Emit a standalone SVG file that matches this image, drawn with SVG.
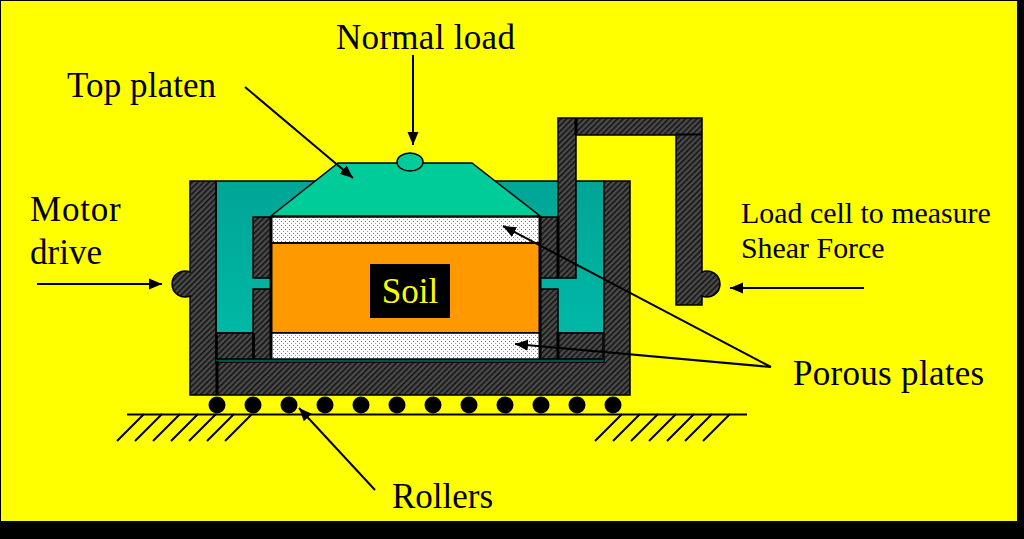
<svg xmlns="http://www.w3.org/2000/svg" width="1024" height="539" viewBox="0 0 1024 539">
<style>
text{font-family:"Liberation Serif","Times New Roman",serif;fill:#000}
.t{font-size:35px}
.s{font-size:30px}
.w{fill:url(#hatch);stroke:#000;stroke-width:1.5}
.p{fill:url(#dots);stroke:#000;stroke-width:1.5}
.c{fill:none;stroke:#000;stroke-width:2}
.b{fill:none;stroke:#000;stroke-width:3}
.a{fill:none;stroke:#000;stroke-width:2;marker-end:url(#arr)}
</style>
<defs>
<linearGradient id="teal" x1="0" y1="0" x2="0" y2="1"><stop offset="0" stop-color="#00a596"/><stop offset="1" stop-color="#00b8a6"/></linearGradient>
<pattern id="hatch" width="4" height="4" patternUnits="userSpaceOnUse" patternTransform="rotate(45)">
<rect width="4" height="4" fill="#4a4a4a"/><rect width="1.500" height="4" fill="#111"/>
</pattern>
<pattern id="dots" width="4" height="4" patternUnits="userSpaceOnUse">
<rect width="4" height="4" fill="#fff"/><rect x="1" y="1" width="1" height="1" fill="#777"/><rect x="3" y="3" width="1" height="1" fill="#999"/>
</pattern>
<marker id="arr" markerUnits="userSpaceOnUse" markerWidth="15" markerHeight="12" refX="13" refY="6" orient="auto"><path d="M0 0.500L13 6L0 11.500z" fill="#000"/></marker>
</defs>
<rect width="1024" height="539" fill="#000"/>
<rect x="1" y="1" width="1016" height="520" fill="#ff0"/>
<g id="housing">
<rect x="216" y="181" width="388" height="152" fill="url(#teal)" stroke="#000" stroke-width="1.5"/>
<path class="w" d="M190 181H216V362H604V181H630V395H190V296A13 13 0 1 1 190 272Z"/>
<path class="b" d="M217 333V395"/>
<path d="M216 360H603V333" fill="none" stroke="#00554c" stroke-width="2"/>
</g>
<g id="lower-blocks">
<rect class="w" x="217" y="333" width="36" height="26"/>
<rect class="w" x="558" y="333" width="45" height="26"/>
</g>
<g id="inner-walls">
<rect class="w" x="253" y="217" width="18" height="61"/>
<rect class="w" x="253" y="289" width="18" height="70"/>
<rect class="w" x="540" y="217" width="18" height="61"/>
<rect class="w" x="540" y="289" width="18" height="70"/>
<path class="b" d="M253.500 333V359M558 333V359"/>
</g>
<g id="load-cell-frame">
<path class="w" d="M558 278V118H702V272A13 13 0 1 1 702 296V305H676V135H576V278Z"/>
<path class="b" d="M558 217V278M576 118V135"/>
<path class="c" d="M676 134.500H702"/>
</g>
<g id="top-platen">
<path d="M271 216L338 163H472L540 216Z" fill="#00cc99" stroke="#000" stroke-width="1.500"/>
<ellipse cx="410" cy="162" rx="13" ry="9" fill="#00cc99" stroke="#000" stroke-width="1.500"/>
</g>
<g id="top-porous-plate"><rect class="p" x="271" y="217" width="269" height="26"/></g>
<g id="soil">
<rect x="271" y="243" width="269" height="90" fill="#f90" stroke="#000" stroke-width="2"/>
<rect x="370" y="264" width="80" height="54" fill="#000"/>
<text x="410" y="303" text-anchor="middle" class="t" style="fill:#ff0">Soil</text>
</g>
<g id="bottom-porous-plate"><rect class="p" x="271" y="333" width="269" height="26"/></g>
<path class="b" d="M271 217V359M540 217V359"/>
<g id="rollers" fill="#000">
<circle cx="217" cy="405" r="8.500"/><circle cx="253" cy="405" r="8.500"/><circle cx="289" cy="405" r="8.500"/><circle cx="325" cy="405" r="8.500"/><circle cx="361" cy="405" r="8.500"/><circle cx="397" cy="405" r="8.500"/><circle cx="433" cy="405" r="8.500"/><circle cx="469" cy="405" r="8.500"/><circle cx="505" cy="405" r="8.500"/><circle cx="541" cy="405" r="8.500"/><circle cx="577" cy="405" r="8.500"/><circle cx="613" cy="405" r="8.500"/>
</g>
<g id="ground">
<path class="c" d="M127 414.500H747"/>
<path class="c" d="M144 414L117 441M162 414L135 441M180 414L153 441M198 414L171 441M216 414L189 441M234 414L207 441M252 414L225 441M622 414L595 441M640 414L613 441M658 414L631 441M676 414L649 441M694 414L667 441M712 414L685 441M730 414L703 441"/>
</g>
<g id="connectors">
<path class="a" d="M413 55V145"/>
<path class="a" d="M245 87L353 178"/>
<path class="a" d="M37 284H162"/>
<path class="a" d="M864 288H730"/>
<path class="a" d="M771 367L503 226"/>
<path class="a" d="M771 367L515 344"/>
<path class="a" d="M375 490L299 408"/>
</g>
<g id="labels">
<text x="336" y="49" class="t" style="letter-spacing:.3px">Normal load</text>
<text x="67" y="97" class="t" style="letter-spacing:.1px">Top platen</text>
<text x="30" y="221" class="t" style="letter-spacing:.8px">Motor</text>
<text x="30" y="264" class="t">drive</text>
<text x="741" y="223" class="s" style="font-size:29.900px">Load cell to measure</text>
<text x="741" y="258" class="s" style="font-size:29.900px">Shear Force</text>
<text x="793" y="385" class="t" style="letter-spacing:.3px">Porous plates</text>
<text x="392" y="508" class="t">Rollers</text>
</g>
</svg>
